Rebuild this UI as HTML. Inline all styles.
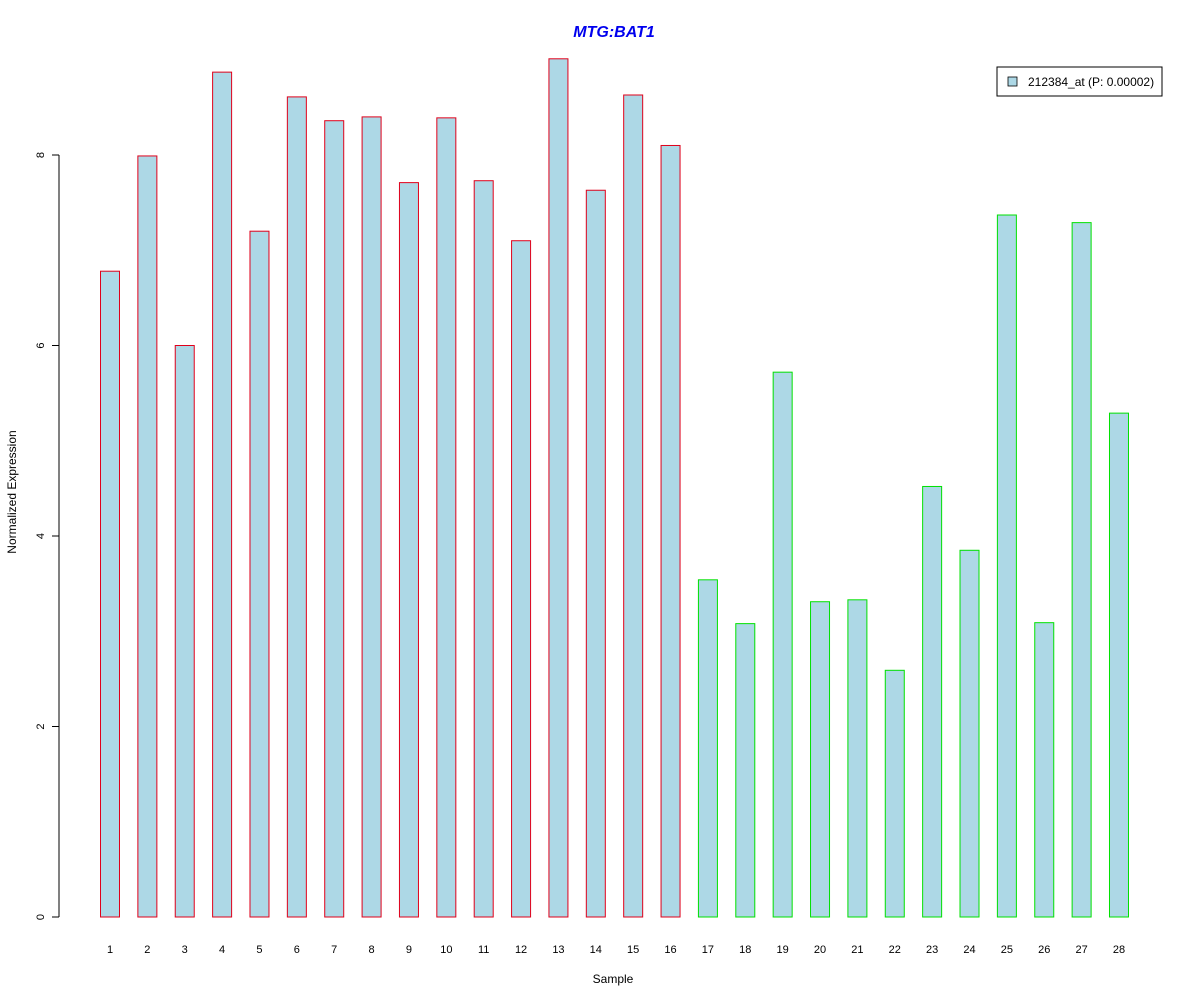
<!DOCTYPE html>
<html><head><meta charset="utf-8"><style>body{margin:0;background:#fff}svg{display:block;font-family:"Liberation Sans",Arial,sans-serif}</style></head>
<body>
<svg id="chart" width="1200" height="1000">
<text x="614" y="37" text-anchor="middle" font-size="16" font-weight="bold" font-style="italic" fill="#0000ee">MTG:BAT1</text>
<text x="613" y="983" text-anchor="middle" font-size="12">Sample</text>
<text transform="translate(16,492) rotate(-90)" text-anchor="middle" font-size="12">Normalized Expression</text>
<g id="yaxis"></g>
<g id="bars"></g>
<g id="xlabels"></g>
<g>
<rect x="997" y="67" width="165" height="29" fill="#fff" stroke="#000"/>
<rect x="1008" y="77" width="9" height="9" fill="#add8e6" stroke="#000" stroke-width="0.8"/>
<text x="1028" y="86" font-size="12">212384_at (P: 0.00002)</text>
</g>
</svg>
<script>
const categories=["1","2","3","4","5","6","7","8","9","10","11","12","13","14","15","16","17","18","19","20","21","22","23","24","25","26","27","28"];
const values=[6.78,7.99,6.0,8.87,7.2,8.61,8.36,8.40,7.71,8.39,7.73,7.10,9.01,7.63,8.63,8.10,3.54,3.08,5.72,3.31,3.33,2.59,4.52,3.85,7.37,3.09,7.29,5.29];
const groups=["r","r","r","r","r","r","r","r","r","r","r","r","r","r","r","r","g","g","g","g","g","g","g","g","g","g","g","g"];
const yTicks=[0,2,4,6,8];
const NS="http://www.w3.org/2000/svg";
const y=v=>917-v*95.25;
const x=i=>100+i*37.37;
const bw=19;
const ya=document.getElementById('yaxis');
let l=document.createElementNS(NS,'line');
l.setAttribute('x1',59);l.setAttribute('x2',59);l.setAttribute('y1',y(0));l.setAttribute('y2',y(8));l.setAttribute('stroke','#000');


ya.appendChild(l);
yTicks.forEach(t=>{
 const tk=document.createElementNS(NS,'line');
 tk.setAttribute('x1',52);tk.setAttribute('x2',59);tk.setAttribute('y1',y(t));tk.setAttribute('y2',y(t));tk.setAttribute('stroke','#000');
 
 
 ya.appendChild(tk);
 const tx=document.createElementNS(NS,'text');
 tx.setAttribute('transform',`translate(44,${y(t)}) rotate(-90)`);tx.setAttribute('text-anchor','middle');tx.setAttribute('font-size','11');
 tx.textContent=t;
 
 
 ya.appendChild(tx);
});
const bg=document.getElementById('bars'),xl=document.getElementById('xlabels');
values.forEach((v,i)=>{
 const r=document.createElementNS(NS,'rect');
 r.setAttribute('x',x(i)+0.5);r.setAttribute('y',y(v));r.setAttribute('width',bw);r.setAttribute('height',y(0)-y(v));
 r.setAttribute('fill','#add8e6');r.setAttribute('stroke',groups[i]==='r'?'#e0001a':'#00e000');
 
 
 bg.appendChild(r);
 const t=document.createElementNS(NS,'text');
 t.setAttribute('x',x(i)+bw/2+0.5);t.setAttribute('y',953);t.setAttribute('text-anchor','middle');t.setAttribute('font-size','11');
 t.textContent=categories[i];
 
 
 xl.appendChild(t);
});
</script>
</body></html>
